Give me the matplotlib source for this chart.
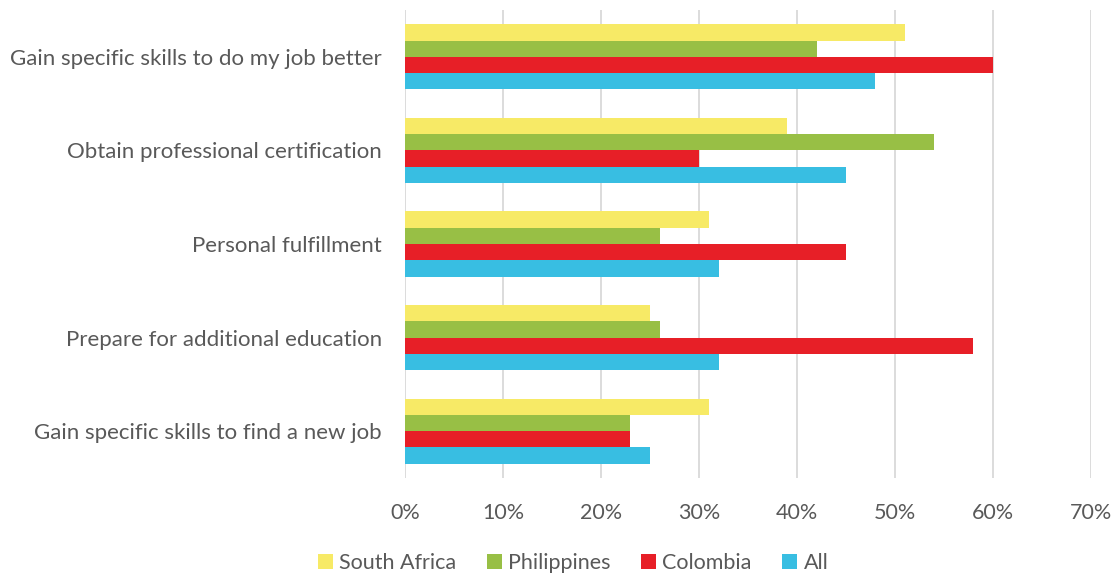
import numpy as np
import matplotlib.pyplot as plt
from matplotlib.ticker import PercentFormatter

plt.rcParams['font.family'] = ['Lato', 'DejaVu Sans']

# data
categories = ['Gain specific skills to do my job better',
              'Obtain professional certification',
              'Personal fulfillment',
              'Prepare for additional education',
              'Gain specific skills to find a new job']
series_names = ['South Africa', 'Philippines', 'Colombia', 'All']
south_africa = [51, 39, 31, 25, 31]
philippines = [42, 54, 26, 26, 23]
colombia = [60, 30, 45, 58, 23]
all_resp = [48, 45, 32, 32, 25]
x_ticks = [0, 10, 20, 30, 40, 50, 60, 70]

colors = ['#F7EA66', '#98BF45', '#E71F27', '#38BEE2']
text_col = '#595959'

fig = plt.figure(figsize=(11.2, 5.76), dpi=100)
ax = fig.add_axes([405 / 1120, 1 - 478 / 576, (1091 - 405) / 1120, (478 - 10) / 576])

y = np.arange(len(categories))
h = 0.174
for i, (name, vals) in enumerate(zip(series_names, [south_africa, philippines, colombia, all_resp])):
    ax.barh(y - 1.5 * h + i * h, vals, height=h, color=colors[i], label=name, zorder=3)

ax.set_xlim(0, 70)
ax.set_ylim(len(categories) - 0.5, -0.5)
ax.set_xticks(x_ticks)
ax.xaxis.set_major_formatter(PercentFormatter(decimals=0))
ax.set_yticks(y)
ax.set_yticklabels(categories)
ax.grid(axis='x', color='#D9D9D9', linewidth=1.3, zorder=0)
for s in ax.spines.values():
    s.set_visible(False)
ax.tick_params(axis='both', length=0, colors=text_col)
ax.tick_params(axis='x', pad=18, labelsize=15.5)
ax.tick_params(axis='y', pad=16.5, labelsize=16)

ax.legend(loc='center', bbox_to_anchor=(0.245, -0.182), ncol=4, frameon=False,
          fontsize=15.5, handlelength=0.7, handleheight=0.7, handletextpad=0.3,
          columnspacing=1.4, labelcolor=text_col, bbox_transform=ax.transAxes)

fig.savefig('out.png', dpi=100)
